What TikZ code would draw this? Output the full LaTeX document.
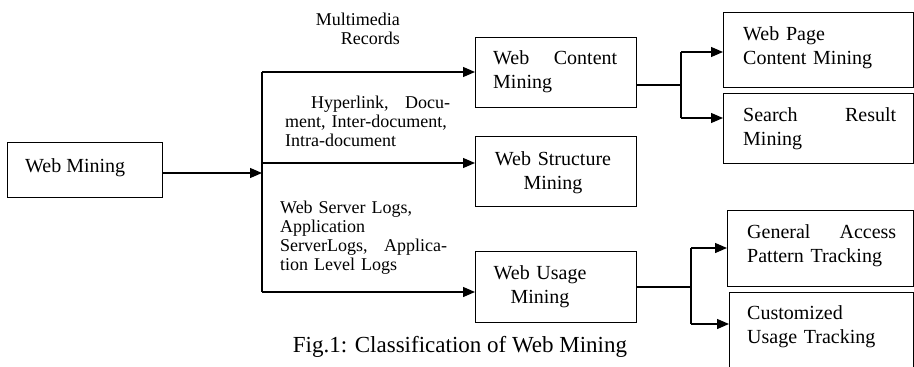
\documentclass[tikz,border=0pt]{standalone}
\usepackage{fontspec}
\setmainfont{Liberation Serif}
\usetikzlibrary{arrows.meta}
\begin{document}
\begin{tikzpicture}[x=1pt,y=-1pt,
  box/.style n args={2}{draw,line width=1.3pt,anchor=north west,minimum width=#1,minimum height=#2,inner sep=0pt},
  lbl/.style={inner sep=0pt,font=\fontsize{18}{19}\selectfont,anchor=base west,align=left},
  btxt/.style={inner sep=0pt,font=\fontsize{20}{24}\selectfont,anchor=base west,align=left},
  arr/.style={line width=1.3pt,-{Triangle[length=12pt,width=10pt]}},
  ln/.style={line width=1.3pt}]
\useasboundingbox (0,0) rectangle (914,367);
\clip (0,0) rectangle (914,367);
% boxes
\node[box={155pt}{55pt}] (wm) at (7,142) {};
\node[box={161pt}{70pt}] (wc) at (475,37) {};
\node[box={161pt}{70pt}] (ws) at (475,136) {};
\node[box={161pt}{71pt}] (wu) at (475,251) {};
\node[box={190pt}{75pt}] (wp) at (723,12) {};
\node[box={190pt}{70pt}] (sr) at (723,93) {};
\node[box={186pt}{76pt}] (ga) at (727,210) {};
\node[box={184pt}{85pt}] (cu) at (729,292) {};
% box texts
\node[btxt] (twm) at (25,172) {Web Mining};
\node[btxt,text width=124pt] (twc) at (493,64) {Web\hfill Content\\Mining};
\node[btxt,text width=140pt,align=center,anchor=base] (tws) at (553,165) {Web Structure\\Mining};
\node[btxt,text width=140pt,align=center,anchor=base] (twu) at (540,279) {Web Usage\\Mining};
\node[btxt,text width=160pt] (twp) at (743,40) {Web Page\\Content Mining};
\node[btxt,text width=153pt] (tsr) at (743,121) {Search\hfill Result\\Mining};
\node[btxt,text width=149pt] (tga) at (747,238) {General\hfill Access\\Pattern Tracking};
\node[btxt,text width=160pt] (tcu) at (747,319) {Customized\\Usage Tracking};
% labels
\node[lbl,text width=90pt,align=right,anchor=base east] (lmm) at (400,25) {Multimedia\\Records};
\node[lbl,text width=165pt] (lhl) at (285,108) {\hspace*{26pt}Hyperlink,\hfill Docu-\\ment, Inter-document,\\Intra-document};
\node[lbl,text width=167pt] (lws) at (280,213) {Web Server Logs,\\Application\\ServerLogs,\hfill Applica-\\tion Level Logs};
\node[inner sep=0pt,font=\fontsize{23}{26}\selectfont,anchor=base] (cap) at (460,352) {Fig.1: Classification of Web Mining};
% connectors
\coordinate (j) at (262,173);
\coordinate (b1) at (262,72);
\coordinate (b2) at (262,163);
\coordinate (b3) at (262,292);
\draw[arr] (wm.east |- j) -- (j);
\draw[ln] (b1) -- (b3);
\draw[arr] (b1) -- (b1 -| wc.west);
\draw[arr] (b2) -- (b2 -| ws.west);
\draw[arr] (b3) -- (b3 -| wu.west);
\coordinate (c1) at (681,85);
\coordinate (c1t) at (681,52);
\coordinate (c1b) at (681,118);
\draw[ln] (wc.east |- c1) -- (c1);
\draw[ln] (c1t) -- (c1b);
\draw[arr] (c1t) -- (c1t -| wp.west);
\draw[arr] (c1b) -- (c1b -| sr.west);
\coordinate (c2) at (691,287);
\coordinate (c2t) at (691,248);
\coordinate (c2b) at (691,324);
\draw[ln] (wu.east |- c2) -- (c2);
\draw[ln] (c2t) -- (c2b);
\draw[arr] (c2t) -- (c2t -| ga.west);
\draw[arr] (c2b) -- (c2b -| cu.west);
\end{tikzpicture}
\end{document}
